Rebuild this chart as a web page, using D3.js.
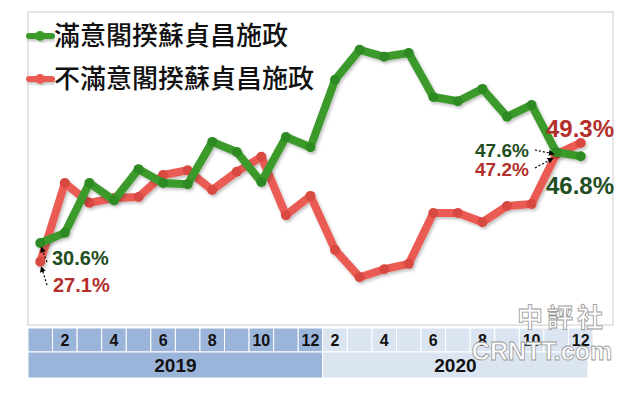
<!doctype html>
<html>
<head>
<meta charset="utf-8">
<style>
    body { margin: 0; background: #fff; }
    svg { display: block; }
    .num { font-family: "Liberation Sans", Arial, sans-serif; font-weight: bold; }
    .legend { font-family: "Noto Sans CJK TC", "Noto Sans CJK SC", sans-serif; font-size: 26px; font-weight: 500; fill: #111; }
</style>
<script src="https://d3js.org/d3.v7.min.js"></script>
</head>
<body>
<svg width="640" height="394"></svg>
<script>

    // months surveyed: 2019 Jan-Dec, 2020 Feb-Dec
    var months2019 = [1, 2, 3, 4, 5, 6, 7, 8, 9, 10, 11, 12];
    var months2020 = [2, 3, 4, 5, 6, 7, 8, 9, 10, 11, 12];
    var years = ["2019", "2020"];

    var satisfied    = [30.6, 32.5, 41.8, 38.6, 44.4, 41.8, 41.6, 49.5, 47.6, 42.0, 50.4, 48.5,
                        61.1, 66.7, 65.4, 66.1, 57.9, 57.1, 59.4, 54.2, 56.4, 47.6, 46.8];
    var dissatisfied = [27.1, 41.8, 38.1, 39.0, 39.2, 43.3, 44.2, 40.5, 43.9, 46.7, 35.8, 39.4,
                        29.3, 24.2, 25.7, 26.7, 36.2, 36.2, 34.5, 37.5, 37.9, 47.2, 49.3];

    var legendLabels = ["滿意閣揆蘇貞昌施政", "不滿意閣揆蘇貞昌施政"];

    var categories = months2019.map(function(m) { return "2019-" + m; })
        .concat(months2020.map(function(m) { return "2020-" + m; }));

    var svg = d3.select("svg");

    var defs = svg.append("defs");
    var f = defs.append("filter").attr("id", "shadow")
        .attr("x", "-10%").attr("y", "-10%").attr("width", "120%").attr("height", "130%");
    f.append("feDropShadow").attr("dx", 1.5).attr("dy", 2).attr("stdDeviation", 1.5)
        .attr("flood-color", "#000").attr("flood-opacity", 0.25);

    var x = d3.scaleBand().domain(categories).range([28, 593]).padding(0);
    var y = d3.scaleLinear().domain([20, 70]).range([299.7, 32.2]);
    var cx = function(i) { return x(categories[i]) + x.bandwidth() / 2; };

    // plot frame
    svg.append("rect")
       .attr("x", 28).attr("y", 12).attr("width", 585).attr("height", 313)
       .attr("fill", "none").attr("stroke", "#dcdcdc").attr("stroke-width", 1.5);

    // month row
    var axisG = svg.append("g");
    axisG.selectAll("rect.m")
         .data(categories)
         .enter().append("rect")
         .attr("class", "m")
         .attr("x", function(d) { return x(d); })
         .attr("y", 328)
         .attr("width", x.bandwidth())
         .attr("height", 24)
         .attr("fill", function(d) { return d.indexOf("2019") === 0 ? "#9bb4d9" : "#dbe4f1"; })
         .attr("stroke", "#fff")
         .attr("stroke-width", 1);

    axisG.selectAll("text.m")
         .data(categories.filter(function(d) { return +d.split("-")[1] % 2 === 0; }))
         .enter().append("text")
         .attr("class", "m num")
         .attr("x", function(d) { return x(d) + x.bandwidth() / 2; })
         .attr("y", 346)
         .attr("text-anchor", "middle")
         .attr("font-size", "16px")
         .attr("fill", "#111")
         .text(function(d) { return d.split("-")[1]; });

    // year row
    years.forEach(function(yr) {
        var cs = categories.filter(function(d) { return d.indexOf(yr) === 0; });
        var x0 = x(cs[0]), x1 = x(cs[cs.length - 1]) + x.bandwidth();
        if (yr === "2020") x1 -= 5;
        axisG.append("rect")
             .attr("x", x0).attr("y", 352).attr("width", x1 - x0).attr("height", 26)
             .attr("fill", yr === "2019" ? "#9bb4d9" : "#dbe4f1")
             .attr("stroke", "#fff").attr("stroke-width", 1);
        axisG.append("text")
             .attr("class", "num")
             .attr("x", (x0 + x1) / 2).attr("y", 372)
             .attr("text-anchor", "middle")
             .attr("font-size", "19px")
             .attr("fill", "#111")
             .text(yr);
    });

    // lines
    var series = [
        { values: satisfied,    color: "#3b9a2b", dot: "#2f8a22" },
        { values: dissatisfied, color: "#ea5b52", dot: "#d84a42" }
    ];
    var line = d3.line()
        .x(function(d, i) { return cx(i); })
        .y(function(d) { return y(d); });

    [series[1], series[0]].forEach(function(s) {
        var g = svg.append("g").attr("filter", "url(#shadow)");
        g.append("path")
         .datum(s.values)
         .attr("d", line)
         .attr("fill", "none")
         .attr("stroke", s.color)
         .attr("stroke-width", 8)
         .attr("stroke-linejoin", "round")
         .attr("stroke-linecap", "round");
        g.selectAll("circle")
         .data(s.values)
         .enter().append("circle")
         .attr("cx", function(d, i) { return cx(i); })
         .attr("cy", function(d) { return y(d); })
         .attr("r", 5)
         .attr("fill", s.dot);
    });

    // legend
    series.forEach(function(s, i) {
        var ly = [36, 79][i];
        var lg = svg.append("g").attr("filter", "url(#shadow)");
        lg.append("line")
          .attr("x1", 29).attr("x2", 52).attr("y1", ly).attr("y2", ly)
          .attr("stroke", s.color).attr("stroke-width", 6).attr("stroke-linecap", "round");
        lg.append("circle").attr("cx", 40).attr("cy", ly).attr("r", 5).attr("fill", s.color);
        svg.append("text")
           .attr("class", "legend")
           .attr("x", 54).attr("y", ly + 9)
           .text(legendLabels[i]);
    });

    // value labels
    var dkGreen = "#1f4e22", dkRed = "#b3302d";
    var labels = [
        { t: satisfied[0] + "%",     x: 52,  y: 265, c: dkGreen, s: 20 },
        { t: dissatisfied[0] + "%",  x: 53,  y: 292, c: dkRed,   s: 20 },
        { t: satisfied[21] + "%",    x: 475, y: 157, c: dkGreen, s: 19 },
        { t: dissatisfied[21] + "%", x: 475, y: 176, c: dkRed,   s: 19 },
        { t: dissatisfied[22] + "%", x: 546, y: 137, c: dkRed,   s: 24 },
        { t: satisfied[22] + "%",    x: 546, y: 194, c: dkGreen, s: 24 }
    ];
    svg.selectAll("text.val")
       .data(labels)
       .enter().append("text")
       .attr("class", "val num")
       .attr("x", function(d) { return d.x; })
       .attr("y", function(d) { return d.y; })
       .attr("font-size", function(d) { return d.s + "px"; })
       .attr("fill", function(d) { return d.c; })
       .text(function(d) { return d.t; });

    // small dashed arrows
    defs.append("marker").attr("id", "arr")
        .attr("viewBox", "0 0 10 10").attr("refX", 9).attr("refY", 5)
        .attr("markerWidth", 5).attr("markerHeight", 5).attr("orient", "auto")
        .append("path").attr("d", "M0,0L10,5L0,10z").attr("fill", "#000");
    var arrows = [
        [47, 262, cx(0) + 1, y(satisfied[0]) + 4],
        [47, 285, cx(0) + 1, y(dissatisfied[0]) + 5],
        [535, 150, cx(21) - 2, y(satisfied[21]) + 2],
        [535, 168, cx(21) - 3, y(dissatisfied[21]) + 4]
    ];
    svg.selectAll("line.arr")
       .data(arrows)
       .enter().append("line")
       .attr("class", "arr")
       .attr("x1", function(d) { return d[0]; }).attr("y1", function(d) { return d[1]; })
       .attr("x2", function(d) { return d[2]; }).attr("y2", function(d) { return d[3]; })
       .attr("stroke", "#000").attr("stroke-width", 1.2)
       .attr("stroke-dasharray", "2,2")
       .attr("marker-end", "url(#arr)");

    // watermark
    var wm = svg.append("g").attr("class", "num")
        .attr("fill", "#fff").attr("stroke", "#999").attr("stroke-width", 0.8);
    wm.append("text").attr("x", 562).attr("y", 327).attr("text-anchor", "middle")
      .attr("font-size", "26px").attr("font-family", "Noto Sans CJK TC")
      .attr("letter-spacing", "4px").text("中評社");
    wm.append("text").attr("x", 542).attr("y", 360).attr("text-anchor", "middle")
      .attr("font-size", "25px").text("CRNTT.com");

</script>
</body>
</html>
